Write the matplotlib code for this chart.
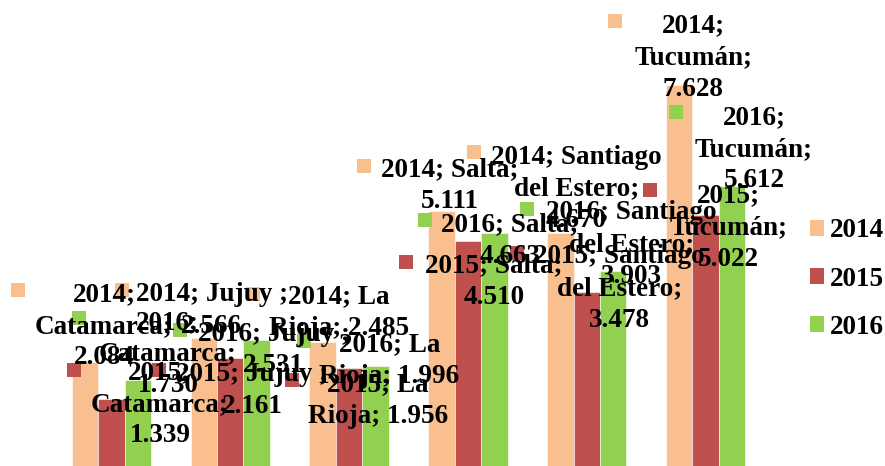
import textwrap
import matplotlib
matplotlib.use("Agg")
import matplotlib.pyplot as plt
from matplotlib.transforms import offset_copy
from matplotlib.patches import Patch

# ---------------- data ----------------
categories = ["Catamarca", "Jujuy ", "La Rioja", "Salta", "Santiago del Estero", "Tucumán"]
years = ["2014", "2015", "2016"]
values_2014 = [2084, 2566, 2485, 5111, 4670, 7628]
values_2015 = [1339, 2161, 1956, 4510, 3478, 5022]
values_2016 = [1730, 2531, 1996, 4663, 3903, 5612]
series = [values_2014, values_2015, values_2016]

# ---------------- style / layout ----------------
colors = ["#F9BF8F", "#C0504D", "#92D050"]
FS = 19.5
wrap_width = [14, 14, 14, 14, 14, 9]
# per label: (text dx, first-line dy, marker dx, marker dy) in pixels, image-down y
label_offsets = [
    [(19, -70, -67, -72), (8, -46, -82, -48), (16, -48, -70, -48),
     (8.5, -44, -77.5, -45), (16, -78, -86, -81), (14, -62, -64, -64)],
    [(48.5, -29, -37.5, -29), (22, 14, -71, 12), (29, 14, -57, 12),
     (26, 22, -62, 21), (33, -38, -70, -39), (22.5, -22, -55.5, -25)],
    [(30, -60, -59, -62), (17, -8, -77, -10), (14, -24, -71, -25),
     (15.5, -11, -69.5, -13), (18.5, -61, -86.5, -62), (22, -71, -56, -74)],
]

plt.rcParams['font.family'] = ['Liberation Serif', 'DejaVu Serif']
plt.rcParams['font.weight'] = 'bold'

fig = plt.figure(figsize=(8.85, 4.66), dpi=100)
ax = fig.add_axes([52 / 885, 0, (765 - 52) / 885, 449 / 466])
ax.set_xlim(-0.5, len(categories) - 0.5)
ax.set_ylim(0, 9000)
ax.axis('off')

bw = 1 / 4.5
x = list(range(len(categories)))

def fmt(v):
    return f"{v:,}".replace(",", ".")

for si, (yr, vals, col) in enumerate(zip(years, series, colors)):
    xs = [xi + (si - 1) * bw for xi in x]
    ax.bar(xs, vals, width=bw, color=col, edgecolor='white', linewidth=0.4, zorder=2)

for si, (yr, vals, col) in enumerate(zip(years, series, colors)):
    xs = [xi + (si - 1) * bw for xi in x]
    for ci, (xb, v) in enumerate(zip(xs, vals)):
        tdx, tdy, mdx, mdy = label_offsets[si][ci]
        txt = f"{yr}; {categories[ci]}; {fmt(v)}"
        txt = "\n".join(textwrap.wrap(txt, wrap_width[ci]))
        ax.annotate(txt, xy=(xb, v), xytext=(tdx, 10 - tdy), textcoords='offset pixels',
                    ha='center', va='top', multialignment='center', fontsize=FS,
                    fontweight='bold', linespacing=1.35, color='black', zorder=5,
                    annotation_clip=False)
        tr = offset_copy(ax.transData, fig=fig, x=mdx, y=-mdy, units='dots')
        ax.plot([xb], [v], marker='s', ms=10, mew=0, color=col, transform=tr,
                clip_on=False, zorder=4)

handles = [Patch(facecolor=c, edgecolor='none') for c in colors]
fig.legend(handles, years, loc='center left', bbox_to_anchor=(810 / 885, (466 - 279) / 466),
           frameon=False, borderpad=0, borderaxespad=0, handlelength=0.52, handleheight=0.52,
           handletextpad=0.22, labelspacing=0.85, prop={'size': FS, 'weight': 'bold'})

fig.savefig('out.png', dpi=100)
